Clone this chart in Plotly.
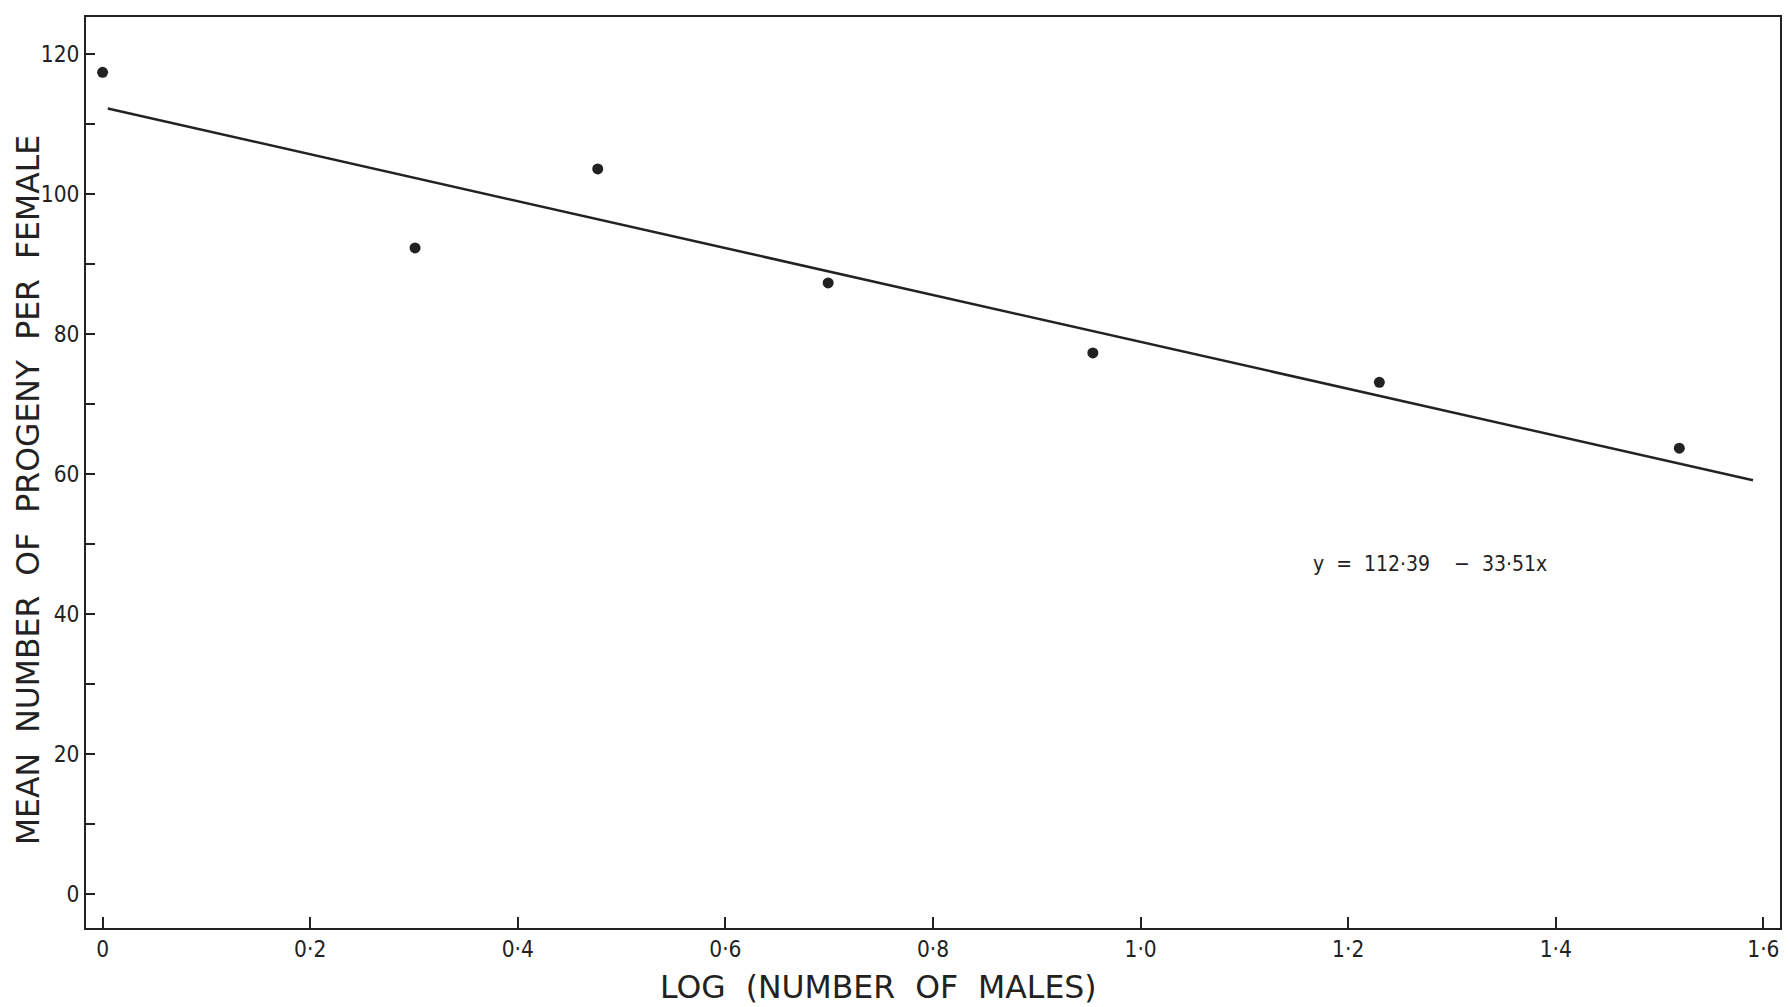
import plotly.graph_objects as go

# Data: number of males 1,2,3,5,9,17,33 -> log10
log_males = [0.0, 0.301, 0.477, 0.699, 0.954, 1.230, 1.519]
mean_progeny = [117.4, 92.3, 103.6, 87.3, 77.3, 73.1, 63.7]

# Regression line y = 112.39 - 33.51x
intercept = 112.39
slope = -33.51
line_x = [0.005, 1.59]
line_y = [intercept + slope * x for x in line_x]

x_tickvals = [0, 0.2, 0.4, 0.6, 0.8, 1.0, 1.2, 1.4, 1.6]
x_ticktext = ["0", "0·2", "0·4", "0·6", "0·8", "1·0", "1·2", "1·4", "1·6"]
y_tickvals = [0, 20, 40, 60, 80, 100, 120]

ink = "#222222"
font_main = "DejaVu Sans Condensed"

fig = go.Figure()
fig.add_trace(go.Scatter(x=line_x, y=line_y, mode="lines",
                         line=dict(color=ink, width=2.5), showlegend=False,
                         hoverinfo="skip"))
fig.add_trace(go.Scatter(x=log_males, y=mean_progeny, mode="markers",
                         marker=dict(color=ink, size=11), showlegend=False))

fig.add_annotation(x=1.164, y=47.1, xref="x", yref="y", xanchor="left",
                   yanchor="middle", showarrow=False,
                   text="y\u00a0 =\u00a0 112·39\u00a0\u00a0\u00a0 −\u00a0 33·51x",
                   font=dict(family=font_main, size=21, color=ink))

nb = "\u00a0\u00a0"
fig.add_annotation(xref="paper", yref="paper",
                   x=(879 - 86) / (1782 - 86), y=-(987 - 928) / (928 - 17),
                   xanchor="center", yanchor="middle", showarrow=False,
                   text=f"LOG{nb}(NUMBER{nb}OF{nb}MALES)",
                   font=dict(family="DejaVu Sans", size=31.5, color=ink))
fig.add_annotation(xref="paper", yref="paper",
                   x=-(86 - 28) / (1782 - 86), y=(928 - 490) / (928 - 17),
                   xanchor="center", yanchor="middle", showarrow=False,
                   textangle=-90,
                   text=f"MEAN{nb}NUMBER{nb}OF{nb}PROGENY{nb}PER{nb}FEMALE",
                   font=dict(family="DejaVu Sans", size=31.5, color=ink))

fig.update_layout(
    width=1789, height=1007,
    margin=dict(l=86, r=7, t=17, b=79),
    paper_bgcolor="white", plot_bgcolor="white",
    font=dict(family=font_main, size=22.5, color=ink),
    xaxis=dict(range=[-0.016, 1.616], tickvals=x_tickvals, ticktext=x_ticktext,
               ticks="inside", ticklen=11, tickwidth=1.5, tickcolor=ink,
               showline=True, linewidth=2, linecolor=ink, mirror=True,
               showgrid=False, zeroline=False),
    yaxis=dict(range=[-4.86, 125.3], tickvals=y_tickvals,
               ticks="inside", ticklen=9, tickwidth=1.5, tickcolor=ink,
               minor=dict(tickvals=[10, 30, 50, 70, 90, 110], ticks="inside",
                          ticklen=9, tickwidth=1.5, tickcolor=ink),
               showline=True, linewidth=2, linecolor=ink, mirror=True,
               showgrid=False, zeroline=False),
)

fig.write_html("out.html")
